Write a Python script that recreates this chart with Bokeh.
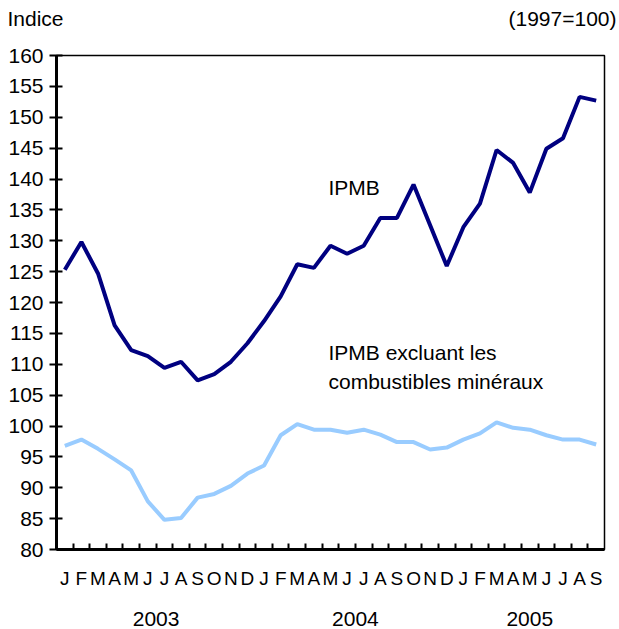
from bokeh.plotting import figure
from bokeh.models import Range1d, FixedTicker, Label, ColumnDataSource, LinearAxis
from bokeh.embed import file_html
from bokeh.resources import INLINE

# ---- data ----
month_labels = (["J", "F", "M", "A", "M", "J", "J", "A", "S", "O", "N", "D"] * 2
                + ["J", "F", "M", "A", "M", "J", "J", "A", "S"])
years = ["2003", "2004", "2005"]
months_per_year = [12, 12, 9]

ipmb = [125.3, 129.8, 124.7, 116.3, 112.3, 111.3, 109.4, 110.4, 107.4, 108.4, 110.4, 113.4,
        117.0, 121.0, 126.2, 125.6, 129.2, 127.9, 129.2, 133.7, 133.7, 139.1, 132.5, 125.9,
        132.2, 136.0, 144.7, 142.6, 137.8, 144.9, 146.6, 153.3, 152.7]
ipmb_excl = [96.8, 97.8, 96.3, 94.6, 92.8, 87.8, 84.8, 85.1, 88.4, 89.0, 90.3, 92.3,
             93.6, 98.5, 100.3, 99.4, 99.4, 98.9, 99.4, 98.6, 97.4, 97.4, 96.2, 96.5,
             97.8, 98.8, 100.6, 99.7, 99.4, 98.5, 97.8, 97.8, 97.0]
y_ticks = list(range(80, 161, 5))

n = len(month_labels)
xs = list(range(n))

FONT = "Liberation Sans"
FS = "21px"
W = 619
HEAD_H = 32

# ---- header strip (unit label texts) ----
head = figure(width=W, height=HEAD_H, output_backend="svg", toolbar_location=None,
              title=None, x_range=Range1d(0, W), y_range=Range1d(0, HEAD_H),
              min_border=0, min_border_left=0, min_border_right=0,
              min_border_top=0, min_border_bottom=0)
head.axis.visible = False
head.grid.visible = False
head.outline_line_color = None
head.text(x=[7], y=[HEAD_H - 18], text=["Indice"], text_align="left",
          text_baseline="alphabetic", text_font={"value": FONT},
          text_font_size={"value": FS}, text_color="black")
head.text(x=[616], y=[HEAD_H - 18], text=["(1997=100)"], text_align="right",
          text_baseline="alphabetic", text_font={"value": FONT},
          text_font_size={"value": FS}, text_color="black")

# ---- main chart ----
p = figure(width=W, height=629 - HEAD_H, output_backend="svg", toolbar_location=None,
           title=None, x_range=Range1d(-0.5, n - 0.5), y_range=Range1d(80, 160),
           min_border_left=56, min_border_right=15, min_border_top=55 - HEAD_H,
           min_border_bottom=80)
p.xgrid.visible = False
p.ygrid.visible = False
p.outline_line_color = "black"
p.outline_line_width = 1.5

src = ColumnDataSource(dict(x=xs, a=ipmb, b=ipmb_excl))
p.line("x", "b", source=src, line_color="#99CCFF", line_width=4)
p.line("x", "a", source=src, line_color="#000080", line_width=4)

# x axis (months)
xa = p.xaxis[0]
xa.ticker = FixedTicker(ticks=xs, minor_ticks=[i + 0.5 for i in range(n - 1)])
xa.major_label_overrides = {i: lab for i, lab in enumerate(month_labels)}
xa.major_tick_in = 0
xa.major_tick_out = 0
xa.minor_tick_in = 6
xa.minor_tick_out = 0
xa.minor_tick_line_width = 2
xa.minor_tick_line_color = "black"
xa.axis_line_width = 3
xa.axis_line_color = "black"
xa.major_label_text_font = FONT
xa.major_label_text_font_size = "19px"
xa.major_label_text_color = "black"
xa.major_label_standoff = 18

# x axis (years), centred under each year's months
centers = []
start = 0
for cnt in months_per_year:
    centers.append(start + (cnt - 1) / 2)
    start += cnt
ya2 = LinearAxis(ticker=FixedTicker(ticks=centers),
                 major_label_overrides={c: yr for c, yr in zip(centers, years)})
ya2.axis_line_color = None
ya2.major_tick_line_color = None
ya2.minor_tick_line_color = None
ya2.major_label_text_font = FONT
ya2.major_label_text_font_size = FS
ya2.major_label_text_color = "black"
ya2.major_label_standoff = 14
p.add_layout(ya2, "below")

# y axis
ya = p.yaxis[0]
ya.ticker = FixedTicker(ticks=y_ticks)
ya.major_tick_in = 6
ya.major_tick_out = 7
ya.major_tick_line_width = 2
ya.major_tick_line_color = "black"
ya.minor_tick_line_color = None
ya.axis_line_width = 3
ya.axis_line_color = "black"
ya.major_label_text_font = FONT
ya.major_label_text_font_size = FS
ya.major_label_text_color = "black"
ya.major_label_standoff = 6

# series annotations
for txt, yv in [("IPMB", 138.6), ("IPMB excluant les", 111.86),
                ("combustibles minéraux", 107.27)]:
    p.add_layout(Label(x=15.88, y=yv, text=txt, text_align="left",
                       text_baseline="alphabetic", text_font=FONT, text_font_size=FS,
                       text_color="black"))

open("out.html", "w").write(file_html([head, p], INLINE))
